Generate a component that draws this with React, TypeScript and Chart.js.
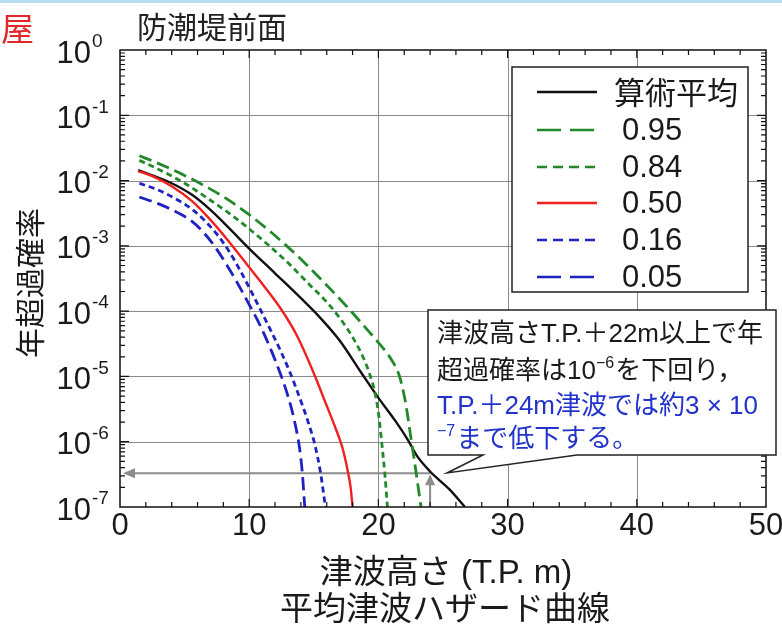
import React, { useEffect, useRef } from "react";
import { Chart, registerables } from "chart.js";
Chart.register(...registerables);

// ---- data ----
const meanHeights = [1.4, 2.5, 4, 5.6, 7, 8.5, 10, 12, 14, 15.5, 17, 18.7, 20, 21.3, 22.3, 23, 24, 25.5, 26.7];
const meanProb = [1.45e-2, 1.2e-2, 9.1e-3, 6.0e-3, 3.55e-3, 1.82e-3, 9.1e-4, 3.8e-4, 1.58e-4, 7.9e-5, 3.55e-5, 1.12e-5, 4.7e-6, 2.1e-6, 1.05e-6, 6.0e-7, 3.5e-7, 1.86e-7, 1.0e-7];

const q95Heights = [1.5, 3, 5, 7, 8.5, 10, 11.5, 12.9, 14.5, 16, 17.6, 19, 20, 21, 21.6, 22.1, 22.5, 22.9, 23.3];
const q95Prob = [2.4e-2, 1.82e-2, 1.2e-2, 7.4e-3, 4.9e-3, 3.0e-3, 1.74e-3, 1.0e-3, 5.0e-4, 2.5e-4, 1.15e-4, 5.6e-5, 3.3e-5, 1.82e-5, 1.05e-5, 4.0e-6, 1.2e-6, 3.55e-7, 1.0e-7];

const q84Heights = [1.5, 3, 5, 7, 8.5, 10, 11.5, 13, 14.5, 16, 17, 18, 18.8, 19.3, 19.7, 20, 20.25, 20.5, 20.7];
const q84Prob = [2.04e-2, 1.48e-2, 9.1e-3, 5.0e-3, 3.1e-3, 1.82e-3, 1.02e-3, 5.5e-4, 2.75e-4, 1.38e-4, 7.9e-5, 4.0e-5, 2.0e-5, 1.12e-5, 6.0e-6, 2.8e-6, 1.0e-6, 3.2e-7, 1.0e-7];

const q50Heights = [1.4, 2.5, 4, 5.6, 7, 8.5, 10, 11.2, 12.5, 13.7, 15, 16, 16.7, 17.2, 17.6, 17.85, 18];
const q50Prob = [1.4e-2, 1.17e-2, 8.2e-3, 4.8e-3, 2.5e-3, 1.12e-3, 4.7e-4, 2.35e-4, 1.05e-4, 4.2e-5, 1.12e-5, 3.55e-6, 1.58e-6, 8.3e-7, 3.8e-7, 2.0e-7, 1.0e-7];

const q16Heights = [1.5, 3, 4.5, 5.6, 6.5, 7.5, 8.5, 9.3, 10, 10.8, 11.6, 12.5, 13.2, 14, 14.6, 15.1, 15.5, 15.9];
const q16Prob = [9.1e-3, 7.1e-3, 5.0e-3, 3.6e-3, 2.5e-3, 1.51e-3, 7.9e-4, 4.2e-4, 2.3e-4, 1.12e-4, 5.4e-5, 2.3e-5, 1.1e-5, 4.2e-6, 1.9e-6, 8.7e-7, 3.55e-7, 1.0e-7];

const q05Heights = [1.5, 3, 4.5, 5.6, 6.5, 7.3, 8.1, 9, 10, 10.8, 11.6, 12.4, 13, 13.5, 13.9, 14.1, 14.3];
const q05Prob = [5.6e-3, 4.4e-3, 3.2e-3, 2.35e-3, 1.58e-3, 1.0e-3, 5.75e-4, 2.9e-4, 1.26e-4, 6.3e-5, 2.8e-5, 1.12e-5, 5.0e-6, 2.1e-6, 7.9e-7, 3.55e-7, 1.0e-7];

const seriesLabels = ["算術平均", "0.95", "0.84", "0.50", "0.16", "0.05"];
const xTickValues = [0, 10, 20, 30, 40, 50];
const yTickExponents = [0, -1, -2, -3, -4, -5, -6, -7];
const arrowHeight = 24;
const arrowProb = 3.3e-7;

const titleText = "防潮堤前面";
const cornerText = "屋";
const yTitle = "年超過確率";
const xTitle = "津波高さ (T.P. m)";
const captionText = "平均津波ハザード曲線";

type Seg = { t: string; sup?: boolean; color: string };
const BLK = "#1a1a1a";
const BLU = "#2233cc";
const calloutLines: Seg[][] = [
  [{ t: "津波高さT.P.＋22m以上で年", color: BLK }],
  [{ t: "超過確率は10", color: BLK }, { t: "−6", sup: true, color: BLK }, { t: "を下回り，", color: BLK }],
  [{ t: "T.P.＋24m津波では約3 × 10", color: BLU }],
  [{ t: "−7", sup: true, color: BLU }, { t: "まで低下する。", color: BLU }],
];

const GREEN = "#21892a";
const RED = "#f0201e";
const BLUE = "#1e22c0";
const styles = [
  { color: "#111111", dash: [] as number[], legendDash: [] as number[] },
  { color: GREEN, dash: [13, 6], legendDash: [24, 9] },
  { color: GREEN, dash: [6, 4], legendDash: [10, 6] },
  { color: RED, dash: [] as number[], legendDash: [] as number[] },
  { color: BLUE, dash: [6, 4], legendDash: [10, 6] },
  { color: BLUE, dash: [13, 6], legendDash: [24, 9] },
];

const LAT = "'Liberation Sans', Arial, 'Noto Sans CJK JP', sans-serif";
const CJK = "'Noto Sans CJK JP', 'Liberation Sans', sans-serif";

const overlay = {
  id: "overlay",
  beforeDatasetsDraw(chart: any) {
    const ctx = chart.ctx as CanvasRenderingContext2D;
    const xs = chart.scales.x;
    const ys = chart.scales.y;
    const a = chart.chartArea;
    ctx.save();
    ctx.strokeStyle = "#8a8a8a";
    ctx.lineWidth = 1;
    xTickValues.forEach((v) => {
      if (v <= 0 || v >= 50) return;
      const px = Math.round(xs.getPixelForValue(v)) + 0.5;
      ctx.beginPath();
      ctx.moveTo(px, a.top);
      ctx.lineTo(px, a.bottom);
      ctx.stroke();
    });
    yTickExponents.forEach((e) => {
      if (e === 0 || e === -7) return;
      const py = Math.round(ys.getPixelForValue(Math.pow(10, e))) + 0.5;
      ctx.beginPath();
      ctx.moveTo(a.left, py);
      ctx.lineTo(a.right, py);
      ctx.stroke();
    });
    // gray arrows
    const ax = xs.getPixelForValue(arrowHeight);
    const ay = ys.getPixelForValue(arrowProb);
    const x0 = xs.getPixelForValue(0) + 3;
    ctx.strokeStyle = "#8c8c8c";
    ctx.fillStyle = "#8c8c8c";
    ctx.lineWidth = 2;
    ctx.beginPath();
    ctx.moveTo(ax, ay);
    ctx.lineTo(x0 + 8, ay);
    ctx.stroke();
    ctx.beginPath();
    ctx.moveTo(x0, ay);
    ctx.lineTo(x0 + 12, ay - 5);
    ctx.lineTo(x0 + 12, ay + 5);
    ctx.closePath();
    ctx.fill();
    ctx.beginPath();
    ctx.moveTo(ax, a.bottom);
    ctx.lineTo(ax, ay + 8);
    ctx.stroke();
    ctx.beginPath();
    ctx.moveTo(ax, ay + 1);
    ctx.lineTo(ax - 5, ay + 12);
    ctx.lineTo(ax + 5, ay + 12);
    ctx.closePath();
    ctx.fill();
    ctx.restore();
  },
  afterDatasetsDraw(chart: any) {
    const ctx = chart.ctx as CanvasRenderingContext2D;
    const xs = chart.scales.x;
    const ys = chart.scales.y;
    const a = chart.chartArea;
    ctx.save();
    ctx.strokeStyle = "#111";
    ctx.lineWidth = 1.5;
    ctx.strokeRect(a.left, a.top, a.right - a.left, a.bottom - a.top);
    ctx.lineWidth = 1.2;
    for (let v = 2; v < 50; v += 2) {
      const px = xs.getPixelForValue(v);
      const len = v % 10 === 0 ? 8 : 5;
      ctx.beginPath();
      ctx.moveTo(px, a.bottom);
      ctx.lineTo(px, a.bottom - len);
      ctx.moveTo(px, a.top);
      ctx.lineTo(px, a.top + len);
      ctx.stroke();
    }
    for (let e = -7; e < 0; e++) {
      for (let m = 1; m <= 9; m++) {
        if (m === 1 && e === -7) continue;
        const py = ys.getPixelForValue(m * Math.pow(10, e));
        const len = m === 1 ? 9 : 5;
        ctx.beginPath();
        ctx.moveTo(a.left, py);
        ctx.lineTo(a.left + len, py);
        ctx.moveTo(a.right, py);
        ctx.lineTo(a.right - len, py);
        ctx.stroke();
      }
    }
    ctx.fillStyle = "#1a1a1a";
    ctx.textBaseline = "middle";
    yTickExponents.forEach((e) => {
      const py = ys.getPixelForValue(Math.pow(10, e));
      ctx.font = `31px ${LAT}`;
      ctx.textAlign = "right";
      ctx.fillText("10", 91, py + 4);
      ctx.font = `19px ${LAT}`;
      ctx.textAlign = "left";
      ctx.fillText(String(e), 92, py - 8);
    });
    ctx.font = `31px ${LAT}`;
    ctx.textAlign = "center";
    xTickValues.forEach((v) => {
      ctx.fillText(String(v), xs.getPixelForValue(v), a.bottom + 19);
    });
    ctx.font = `30px ${CJK}`;
    ctx.textAlign = "left";
    ctx.fillStyle = "#222";
    ctx.fillText(titleText, 137, 27);
    ctx.fillStyle = "#e3262b";
    ctx.font = `33px ${CJK}`;
    ctx.fillText(cornerText, 1, 28);
    ctx.fillStyle = "#1a1a1a";
    ctx.font = `33px ${LAT}`;
    ctx.textAlign = "center";
    ctx.fillText(xTitle, 446, 574);
    ctx.font = `33px ${CJK}`;
    ctx.fillText(captionText, 445, 607);
    ctx.save();
    ctx.translate(30, 283);
    ctx.rotate(-Math.PI / 2);
    ctx.font = `30px ${CJK}`;
    ctx.fillText(yTitle, 0, 0);
    ctx.restore();

    // legend
    const L = { x: 512, y: 67, w: 236, h: 225 };
    ctx.fillStyle = "#fff";
    ctx.fillRect(L.x, L.y, L.w, L.h);
    ctx.strokeStyle = "#222";
    ctx.lineWidth = 1.5;
    ctx.strokeRect(L.x, L.y, L.w, L.h);
    const rows = [92, 130, 167, 203, 240, 277];
    seriesLabels.forEach((lab, i) => {
      const st = styles[i];
      ctx.strokeStyle = st.color;
      ctx.lineWidth = 2.6;
      ctx.setLineDash(st.legendDash);
      ctx.beginPath();
      ctx.moveTo(537, rows[i]);
      ctx.lineTo(597, rows[i]);
      ctx.stroke();
      ctx.setLineDash([]);
      ctx.fillStyle = "#1a1a1a";
      ctx.textAlign = "left";
      ctx.font = `31px ${i === 0 ? CJK : LAT}`;
      ctx.fillText(lab, i === 0 ? 614 : 622, rows[i] + (i === 0 ? 0 : 1));
    });

    // callout
    ctx.beginPath();
    ctx.moveTo(428, 310);
    ctx.lineTo(776, 310);
    ctx.lineTo(776, 455);
    ctx.lineTo(577, 455);
    ctx.lineTo(447, 473);
    ctx.lineTo(483, 455);
    ctx.lineTo(428, 455);
    ctx.closePath();
    ctx.fillStyle = "#fff";
    ctx.fill();
    ctx.strokeStyle = "#222";
    ctx.lineWidth = 1.5;
    ctx.stroke();
    const lineY = [335, 372, 407, 440];
    calloutLines.forEach((segs, i) => {
      let x = 437;
      segs.forEach((s) => {
        ctx.font = s.sup ? `16px ${LAT}` : `26px ${LAT}`;
        ctx.fillStyle = s.color;
        ctx.textAlign = "left";
        ctx.fillText(s.t, x, lineY[i] + (s.sup ? -8 : 0));
        x += ctx.measureText(s.t).width + (s.sup ? 1 : 0);
      });
    });

    ctx.strokeStyle = "#b5dcf0";
    ctx.lineWidth = 3;
    ctx.beginPath();
    ctx.moveTo(0, 1.5);
    ctx.lineTo(782, 1.5);
    ctx.stroke();
    ctx.restore();
  },
};

export default function App() {
  const ref = useRef<HTMLCanvasElement | null>(null);
  useEffect(() => {
    if (!ref.current) return;
    const all: [number[], number[]][] = [
      [meanHeights, meanProb],
      [q95Heights, q95Prob],
      [q84Heights, q84Prob],
      [q50Heights, q50Prob],
      [q16Heights, q16Prob],
      [q05Heights, q05Prob],
    ];
    const datasets = all.map(([hx, py], i) => ({
      label: seriesLabels[i],
      data: hx.map((x, j) => ({ x, y: py[j] })),
      borderColor: styles[i].color,
      borderDash: styles[i].dash,
      borderWidth: i === 0 || i === 3 ? 2.4 : 2.8,
      pointRadius: 0,
      fill: false,
      cubicInterpolationMode: "monotone" as const,
    }));
    const ordered = [datasets[1], datasets[2], datasets[4], datasets[5], datasets[3], datasets[0]];
    const chart = new Chart(ref.current, {
      type: "line",
      data: { datasets: ordered },
      options: {
        responsive: false,
        animation: false,
        devicePixelRatio: 1,
        layout: { padding: { left: 120, top: 50, right: 16, bottom: 117 } },
        plugins: { legend: { display: false }, tooltip: { enabled: false }, title: { display: false } },
        scales: {
          x: {
            type: "linear",
            min: 0,
            max: 50,
            grid: { display: false },
            ticks: { display: false },
            border: { display: false },
            afterFit: (s: any) => { s.height = 0; },
          },
          y: {
            type: "logarithmic",
            min: 1e-7,
            max: 1,
            grid: { display: false },
            ticks: { display: false },
            border: { display: false },
            afterFit: (s: any) => { s.width = 0; },
          },
        },
      } as any,
      plugins: [overlay],
    });
    return () => chart.destroy();
  }, []);
  return (
    <div style={{ position: "fixed", left: 0, top: 0, width: 782, height: 624, background: "#fff" }}>
      <canvas ref={ref} width={782} height={624} style={{ display: "block" }} />
    </div>
  );
}
